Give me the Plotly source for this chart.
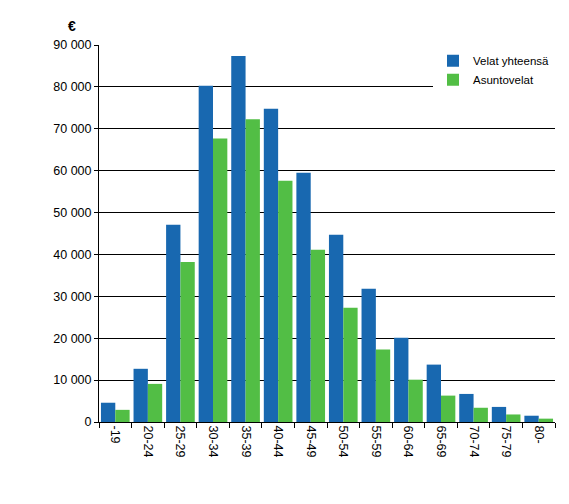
import plotly.graph_objects as go

# age groups
age_groups = ["-19", "20-24", "25-29", "30-34", "35-39", "40-44", "45-49",
              "50-54", "55-59", "60-64", "65-69", "70-74", "75-79", "80-"]

# average debts, euros
velat_yhteensa = [4600, 12700, 47100, 80300, 87400, 74800, 59500,
                  44700, 31800, 20100, 13700, 6700, 3600, 1500]
asuntovelat = [2900, 9100, 38200, 67700, 72300, 57600, 41100,
               27300, 17300, 10100, 6300, 3400, 1800, 800]

y_ticks = list(range(0, 90001, 10000))
y_tick_labels = [f"{v:,}".replace(",", " ") for v in y_ticks]

fig = go.Figure()
fig.add_trace(go.Bar(x=age_groups, y=velat_yhteensa, name="Velat yhteensä",
                     marker=dict(color="#1868B0", line=dict(width=0))))
fig.add_trace(go.Bar(x=age_groups, y=asuntovelat, name="Asuntovelat",
                     marker=dict(color="#52BE45", line=dict(width=0))))

# page body has an 8px margin, so the figure is sized to fit inside it
fig.update_layout(
    width=561, height=496,
    margin=dict(l=91, r=14, t=37, b=82),
    paper_bgcolor="white", plot_bgcolor="white",
    font=dict(family="Liberation Sans, Arial", size=12.5, color="black"),
    barmode="group", bargap=0.12, bargroupgap=0,
    legend=dict(x=1, xanchor="right", y=0.997, yanchor="top",
                bgcolor="white", font=dict(size=11.5), itemwidth=30,
                tracegroupgap=4),
    annotations=[dict(text="<b>€</b>", xref="paper", yref="paper",
                      x=-0.06, y=1.025, xanchor="center", yanchor="bottom",
                      showarrow=False, font=dict(size=14))],
)
fig.update_xaxes(
    type="category", tickangle=90, showline=True, linecolor="black",
    linewidth=1, ticks="outside", tickson="boundaries", ticklen=5,
    tickcolor="black", showgrid=False, automargin=False,
)
fig.update_yaxes(
    range=[0, 90000], tickvals=y_ticks, ticktext=y_tick_labels,
    showline=True, linecolor="black", linewidth=1, ticks="outside",
    ticklen=4, tickcolor="black", showgrid=True, gridcolor="black",
    gridwidth=1, zeroline=False, automargin=False,
)

fig.write_html("out.html")
